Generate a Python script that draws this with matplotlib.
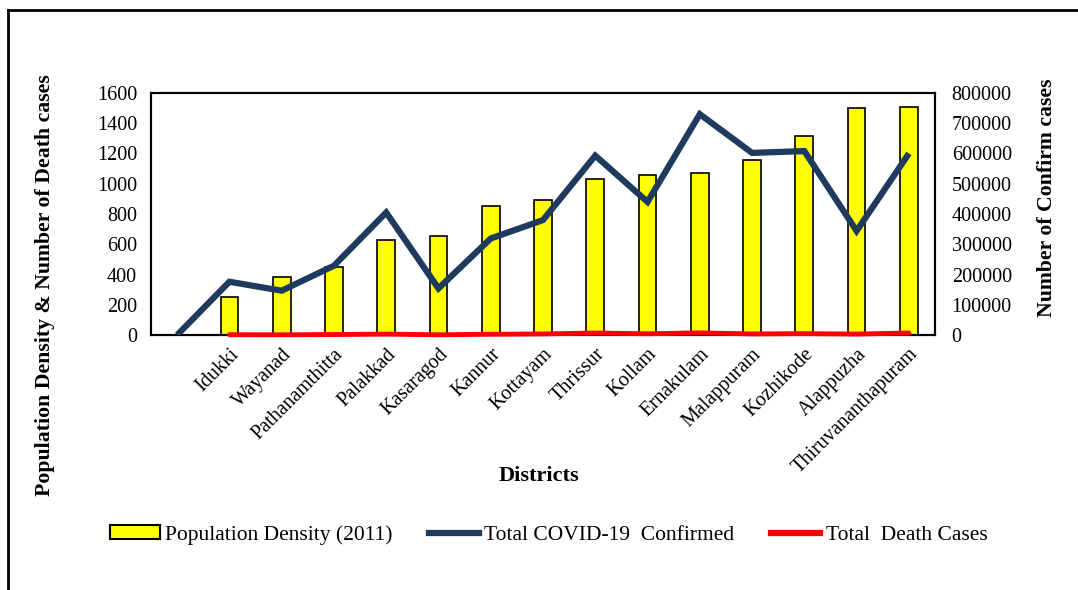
import matplotlib
matplotlib.use("Agg")
import matplotlib.pyplot as plt
import numpy as np
from matplotlib.lines import Line2D
from matplotlib.patches import Patch

plt.rcParams['font.family'] = ['Liberation Serif', 'DejaVu Serif']

# Districts (first slot is an empty category)
districts = ["", "Idukki", "Wayanad", "Pathanamthitta", "Palakkad", "Kasaragod",
             "Kannur", "Kottayam", "Thrissur", "Kollam", "Ernakulam",
             "Malappuram", "Kozhikode", "Alappuzha", "Thiruvananthapuram"]

# Population density (2011), persons per sq km
density = [np.nan, 254, 383, 452, 627, 654, 852, 895, 1031, 1061, 1072,
           1157, 1316, 1504, 1508]

# Total COVID-19 confirmed cases
confirmed = [0, 176000, 146500, 229000, 405000, 154000, 319000, 380000,
             593000, 440000, 730000, 602000, 608000, 344000, 600000]

# Total death cases
deaths = [np.nan, 1000, 700, 1500, 3000, 700, 2500, 3500, 6500, 4000, 7000,
          3500, 4500, 3000, 6500]

left_ticks = list(range(0, 1601, 200))
right_ticks = list(range(0, 800001, 100000))

fig = plt.figure(figsize=(10.78, 5.90), dpi=100)
ax = fig.add_axes([151 / 1078, 1 - 335 / 590, (935 - 151) / 1078, (335 - 93) / 590])
ax2 = ax.twinx()

x = np.arange(len(districts))
ax.bar(x, density, width=0.34, color="#FFFF00", edgecolor="black", linewidth=1.2)
ax2.plot(x, confirmed, color="#1F3A5F", linewidth=4.5, solid_joinstyle="miter",
         solid_capstyle="butt", zorder=4)
ax2.plot(x, deaths, color="#FF0000", linewidth=3.5, solid_capstyle="round",
         clip_on=False, zorder=5)

ax.set_xlim(-0.5, len(districts) - 0.5)
ax.set_ylim(0, 1600)
ax2.set_ylim(0, 800000)
ax.set_yticks(left_ticks)
ax.set_yticklabels([str(v) for v in left_ticks])
ax2.set_yticks(right_ticks)
ax2.set_yticklabels([str(v) for v in right_ticks])

ax.set_xticks(x)
ax.set_xticklabels(districts, rotation=45, ha="right", va="top",
                   rotation_mode="anchor", fontsize=13.2)

for a in (ax, ax2):
    a.tick_params(axis="both", length=0, labelsize=14.5)
    for s in a.spines.values():
        s.set_linewidth(1.5)
        s.set_color("black")
ax.tick_params(axis="y", pad=10)
ax2.tick_params(axis="y", pad=12)
ax.tick_params(axis="x", pad=7)

ax.set_xlabel("Districts", fontsize=16, fontweight="bold", va="center")
ax.xaxis.set_label_coords(0.495, (335 - 476) / 242)
ax.set_ylabel("Population Density & Number of Death cases", fontsize=15.7,
              fontweight="bold", va="center")
ax.yaxis.set_label_coords((45 - 151) / 784, (335 - 285) / 242)
ax2.set_ylabel("Number of Confirm cases", fontsize=15.7, fontweight="bold",
               va="center", rotation=90)
ax2.yaxis.set_label_coords((1047 - 151) / 784, (335 - 198) / 242)

handles = [
    Patch(facecolor="#FFFF00", edgecolor="black", linewidth=1.5),
    Line2D([], [], color="#1F3A5F", linewidth=4.5),
    Line2D([], [], color="#FF0000", linewidth=4.5),
]
labels = ["Population Density (2011)", "Total COVID-19  Confirmed", "Total  Death Cases"]
fig.legend(handles, labels, loc="center", bbox_to_anchor=(0.509, 1 - 535 / 590),
           ncol=3, frameon=False, fontsize=15.5, handlelength=2.3,
           handleheight=0.6, handletextpad=0.25, columnspacing=1.7)

# Outer frame lines (top and left)
fig.add_artist(Line2D([8 / 1078, 1], [1 - 10 / 590, 1 - 10 / 590],
                      transform=fig.transFigure, color="black", linewidth=2))
fig.add_artist(Line2D([8 / 1078, 8 / 1078], [0, 1 - 10 / 590],
                      transform=fig.transFigure, color="black", linewidth=2))

fig.savefig("out.png", dpi=100, facecolor="white")
